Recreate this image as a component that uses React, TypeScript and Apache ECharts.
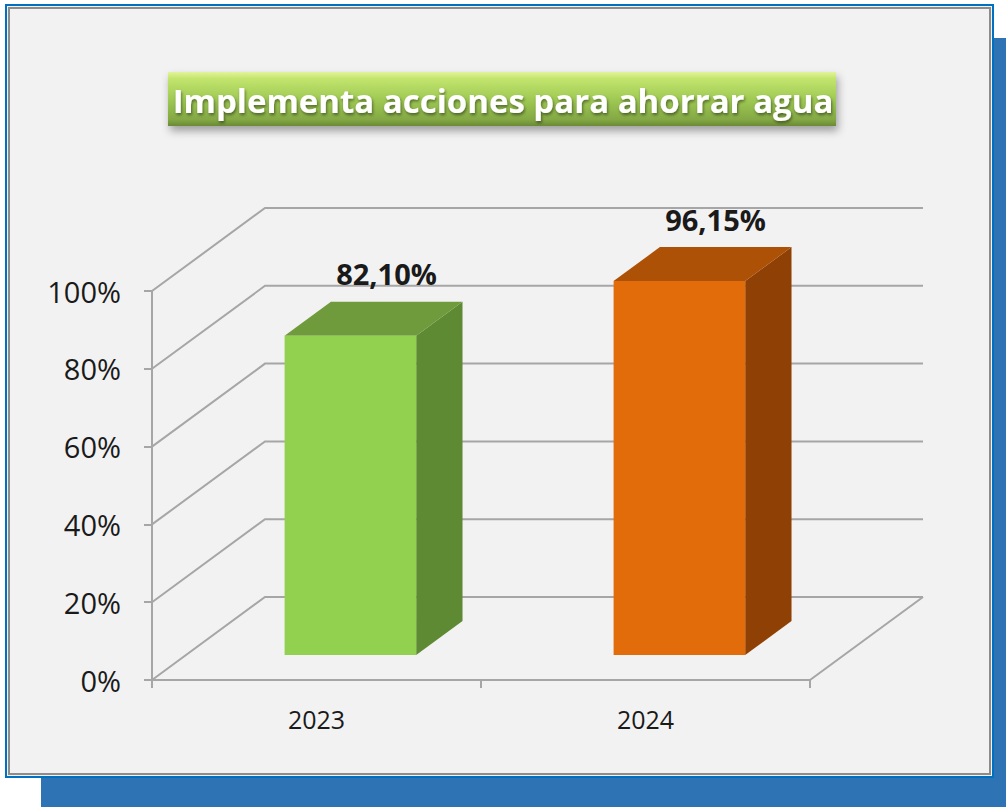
import React, { useEffect, useRef } from "react";
import * as echarts from "echarts";

const titleText = "Implementa acciones para ahorrar agua";
const categories = ["2023", "2024"];
const values = [0.821, 0.9615];
const yTicks = [0, 0.2, 0.4, 0.6, 0.8, 1];
const frontColors = ["#92d050", "#e36c0a"];
const sideColors = ["#5e8a33", "#8f4105"];
const topColors = ["#6f9b3c", "#ad5106"];

const DX = 113;
const DY = 83;
const F0 = 0.3;
const F1 = 0.71;
const FONT = "'Open Sans', 'Noto Sans', sans-serif";

const fmt = (v: number) => (v * 100).toFixed(2).replace(".", ",") + "%";

export default function App() {
  const ref = useRef<HTMLDivElement>(null);
  useEffect(() => {
    if (!ref.current) return;
    const chart = echarts.init(ref.current, undefined, { renderer: "svg" });
    const gridColor = "#a6a6a6";
    chart.setOption({
      animation: false,
      backgroundColor: "#ffffff",
      graphic: [
        { type: "rect", z: -10, shape: { x: 41, y: 38, width: 970, height: 775 }, style: { fill: "#2e74b5" } },
        { type: "rect", z: -9, shape: { x: 6, y: 5, width: 987, height: 772 }, style: { fill: "#f2f2f2", stroke: "#0070c0", lineWidth: 2 } },
        { type: "rect", z: -8, shape: { x: 9, y: 8, width: 981, height: 766 }, style: { fill: "none", stroke: "#8c8c8c", lineWidth: 2 } },
        {
          type: "rect",
          z: 5,
          shape: { x: 168, y: 72, width: 668, height: 54 },
          style: {
            fill: new echarts.graphic.LinearGradient(0, 0, 0, 1, [
              { offset: 0, color: "#e2f59a" },
              { offset: 0.12, color: "#c3e56e" },
              { offset: 0.5, color: "#a0ca54" },
              { offset: 0.88, color: "#83a844" },
              { offset: 1, color: "#6a8a34" },
            ]),
            shadowBlur: 8,
            shadowOffsetY: 5,
            shadowOffsetX: 2,
            shadowColor: "rgba(0,0,0,0.35)",
          },
        },
        {
          type: "text",
          z: 6,
          x: 503,
          y: 100,
          style: {
            text: titleText,
            fill: "#ffffff",
            font: `bold 33px ${FONT}`,
            align: "center",
            verticalAlign: "middle",
            textShadowColor: "rgba(0,0,0,0.45)",
            textShadowBlur: 3,
            textShadowOffsetX: 1,
            textShadowOffsetY: 2,
          },
        },
      ],
      grid: { left: 152, top: 291, width: 658, height: 389 },
      xAxis: {
        type: "category",
        data: categories,
        axisLine: { show: true, lineStyle: { color: gridColor, width: 2 } },
        axisTick: { show: true, length: 8, interval: 0, lineStyle: { color: gridColor, width: 2 } },
        axisLabel: { fontSize: 25, color: "#1a1a1a", margin: 26, fontFamily: FONT },
        splitLine: { show: false },
      },
      yAxis: {
        type: "value",
        min: 0,
        max: 1,
        interval: 0.2,
        axisLine: { show: true, lineStyle: { color: gridColor, width: 2 } },
        axisTick: { show: true, length: 8, lineStyle: { color: gridColor, width: 2 } },
        axisLabel: {
          fontSize: 29,
          color: "#1a1a1a",
          margin: 31,
          fontFamily: FONT,
          formatter: (v: number) => Math.round(v * 100) + "%",
        },
        splitLine: { show: false },
      },
      series: [
        {
          type: "custom",
          name: "walls",
          clip: false,
          silent: true,
          z: 1,
          data: yTicks.map((t) => [0, t]),
          renderItem: (params: any, api: any) => {
            const p = api.coord([0, api.value(1)]);
            const cs = params.coordSys;
            const left = cs.x;
            const right = cs.x + cs.width;
            const children: any[] = [
              {
                type: "polyline",
                shape: { points: [[left, p[1]], [left + DX, p[1] - DY], [right + DX, p[1] - DY]] },
                style: { stroke: gridColor, lineWidth: 2, fill: "none" },
              },
            ];
            if (api.value(1) === 0) {
              children.push({
                type: "line",
                shape: { x1: right, y1: p[1], x2: right + DX, y2: p[1] - DY },
                style: { stroke: gridColor, lineWidth: 2 },
              });
            }
            return { type: "group", children };
          },
        },
        {
          type: "custom",
          name: "bars",
          clip: false,
          z: 3,
          data: values.map((v, i) => [i, v]),
          renderItem: (params: any, api: any) => {
            const i = api.value(0);
            const v = api.value(1);
            const base = api.coord([i, 0]);
            const top = api.coord([i, v]);
            const band = api.size([1, 0])[0];
            const w = band * 0.4;
            const xl = base[0] - w / 2 + F0 * DX;
            const xr = xl + w;
            const yb = base[1] - F0 * DY;
            const yt = top[1] - F0 * DY;
            const ddx = (F1 - F0) * DX;
            const ddy = (F1 - F0) * DY;
            return {
              type: "group",
              children: [
                {
                  type: "polygon",
                  shape: { points: [[xr, yb], [xr + ddx, yb - ddy], [xr + ddx, yt - ddy], [xr, yt]] },
                  style: { fill: sideColors[i] },
                },
                {
                  type: "polygon",
                  shape: { points: [[xl, yt], [xr, yt], [xr + ddx, yt - ddy], [xl + ddx, yt - ddy]] },
                  style: { fill: topColors[i] },
                },
                {
                  type: "polygon",
                  shape: { points: [[xl, yb], [xr, yb], [xr, yt], [xl, yt]] },
                  style: { fill: frontColors[i] },
                },
                {
                  type: "text",
                  x: (xl + xr) / 2 + ddx * 0.78,
                  y: yt - ddy - 28,
                  style: {
                    text: fmt(v),
                    font: `bold 29px ${FONT}`,
                    fill: "#1a1a1a",
                    align: "center",
                    verticalAlign: "middle",
                  },
                },
              ],
            };
          },
        },
      ],
    });
    return () => chart.dispose();
  }, []);
  return (
    <div
      ref={ref}
      style={{ position: "fixed", left: 0, top: 0, width: 1006, height: 807 }}
    />
  );
}
